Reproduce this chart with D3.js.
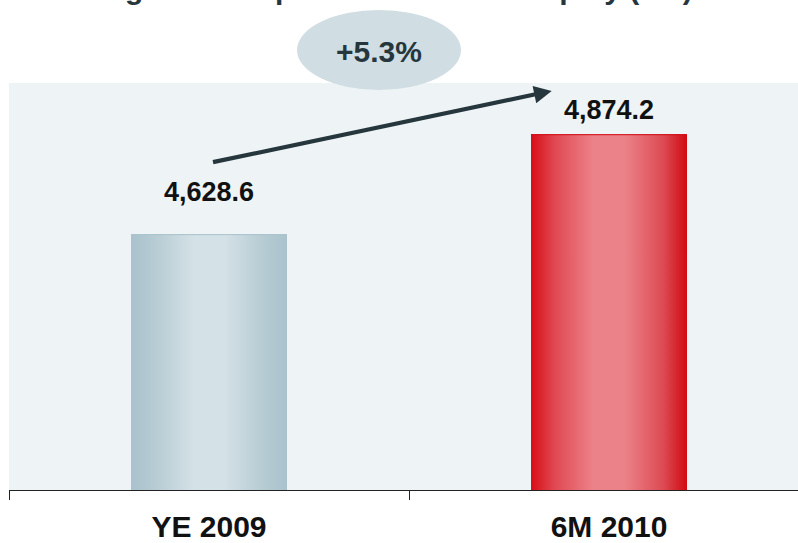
<!DOCTYPE html>
<html>
<head>
<meta charset="utf-8">
<script src="https://cdn.jsdelivr.net/npm/d3@7"></script>
<style>
  html, body { margin: 0; padding: 0; background: #fff; }
  svg { display: block; font-family: "Liberation Sans", Arial, sans-serif; }
</style>
</head>
<body>
<svg id="chart" width="798" height="543"></svg>
<script>
// Group equity, €m
const categories = ["YE 2009", "6M 2010"];
const values = [4628.6, 4874.2];
const valueLabels = ["4,628.6", "4,874.2"];
const growthLabel = "+5.3%";
const titleText = "Change in Group's shareholders' Equity (€m)";

const svg = d3.select("#chart");
const W = 798, H = 543;
const plot = { left: 9, right: 798, top: 83, bottom: 490 };

const pad = 0.61;
const x = d3.scaleBand()
  .domain(categories)
  .range([plot.left, plot.left + 800])
  .paddingInner(pad)
  .paddingOuter(pad / 2);
const halfGap = x.step() * pad / 2;

const y = d3.scaleLinear()
  .domain([4000, 5000])
  .range([plot.bottom, plot.top]);

// gradients for cylindrical-looking bars
const defs = svg.append("defs");
const gradSpecs = [
  { id: "gGrey", stops: [["0%", "#a9c2cc"], ["15%", "#b6cbd3"], ["40%", "#d4e1e6"], ["60%", "#d4e1e6"], ["85%", "#b6cbd3"], ["100%", "#a9c2cc"]] },
  { id: "gRed", stops: [["0%", "#d90d16"], ["15%", "#e04852"], ["40%", "#ec8289"], ["60%", "#ec8289"], ["85%", "#dc4a52"], ["100%", "#d10a12"]] }
];
gradSpecs.forEach(g => {
  const lg = defs.append("linearGradient").attr("id", g.id)
    .attr("x1", "0%").attr("x2", "100%").attr("y1", "0%").attr("y2", "0%");
  g.stops.forEach(s => lg.append("stop").attr("offset", s[0]).attr("stop-color", s[1]));
});
defs.append("marker")
  .attr("id", "arrowHead")
  .attr("viewBox", "0 0 10 10")
  .attr("refX", 2).attr("refY", 5)
  .attr("markerWidth", 5.2).attr("markerHeight", 4.2)
  .attr("markerUnits", "strokeWidth")
  .attr("orient", "auto")
  .append("path").attr("d", "M0,0 L10,5 L0,10 z").attr("fill", "#26363d");

// title (sits above the visible area)
svg.append("text")
  .attr("x", 50).attr("y", -1)
  .attr("text-anchor", "start")
  .attr("font-size", 30).attr("font-weight", "bold")
  .attr("fill", "#26363d")
  .text(titleText);

// plot background
svg.append("rect")
  .attr("x", plot.left).attr("y", plot.top)
  .attr("width", plot.right - plot.left).attr("height", plot.bottom - plot.top)
  .attr("fill", "#eef3f6");

// bars
const fills = ["url(#gGrey)", "url(#gRed)"];
const edges = ["#a9c2cc", "#d10a12"];
svg.selectAll("rect.bar")
  .data(values)
  .join("rect")
  .attr("class", "bar")
  .attr("x", (d, i) => x(categories[i]))
  .attr("y", d => y(d))
  .attr("width", x.bandwidth())
  .attr("height", d => y.range()[0] - y(d))
  .attr("fill", (d, i) => fills[i]);
svg.selectAll("line.barTop")
  .data(values)
  .join("line")
  .attr("class", "barTop")
  .attr("x1", (d, i) => x(categories[i]))
  .attr("x2", (d, i) => x(categories[i]) + x.bandwidth())
  .attr("y1", d => y(d) + 0.5).attr("y2", d => y(d) + 0.5)
  .attr("stroke", (d, i) => edges[i]).attr("stroke-width", 1);

// x axis: baseline plus ticks at category boundaries
const gx = svg.append("g").attr("transform", `translate(0,${plot.bottom})`);
gx.append("line").attr("x1", plot.left).attr("x2", W).attr("y1", 0.5).attr("y2", 0.5)
  .attr("stroke", "#222").attr("stroke-width", 1);
gx.selectAll("line.tick")
  .data(categories)
  .join("line")
  .attr("class", "tick")
  .attr("x1", d => Math.round(x(d) - halfGap) + 0.5)
  .attr("x2", d => Math.round(x(d) - halfGap) + 0.5)
  .attr("y1", 0).attr("y2", 10)
  .attr("stroke", "#222").attr("stroke-width", 1);
svg.selectAll("text.cat")
  .data(categories)
  .join("text")
  .attr("class", "cat")
  .attr("x", d => x(d) + x.bandwidth() / 2)
  .attr("y", 537)
  .attr("text-anchor", "middle")
  .attr("font-size", 30).attr("font-weight", "bold")
  .attr("fill", "#111")
  .text(d => d);

// value labels
const labelGap = [33, 15];
svg.selectAll("text.val")
  .data(values)
  .join("text")
  .attr("class", "val")
  .attr("x", (d, i) => x(categories[i]) + x.bandwidth() / 2)
  .attr("y", (d, i) => y(d) - labelGap[i])
  .attr("text-anchor", "middle")
  .attr("font-size", 27).attr("font-weight", "bold")
  .attr("fill", "#111")
  .text((d, i) => valueLabels[i]);

// growth arrow
const a0 = [x(categories[0]) + x.bandwidth() / 2 + 4, y(values[0]) - 72];
const a1 = [x(categories[1]) + x.bandwidth() / 2 - 54, y(values[1]) - 44];
const len = Math.hypot(a1[0] - a0[0], a1[1] - a0[1]);
const ux = (a1[0] - a0[0]) / len, uy = (a1[1] - a0[1]) / len;
const headLen = 17.5;
svg.append("line")
  .attr("x1", a0[0]).attr("y1", a0[1])
  .attr("x2", a1[0] - ux * headLen).attr("y2", a1[1] - uy * headLen)
  .attr("stroke", "#26363d").attr("stroke-width", 4.2)
  .attr("marker-end", "url(#arrowHead)");

// growth bubble
const cx = (a0[0] + a1[0]) / 2 - 5;
svg.append("ellipse")
  .attr("cx", cx).attr("cy", 50).attr("rx", 82).attr("ry", 40)
  .attr("fill", "#d0dde3");
svg.append("text")
  .attr("x", cx).attr("y", 62)
  .attr("text-anchor", "middle")
  .attr("font-size", 30).attr("font-weight", "bold")
  .attr("fill", "#26363d")
  .text(growthLabel);
</script>
</body>
</html>
